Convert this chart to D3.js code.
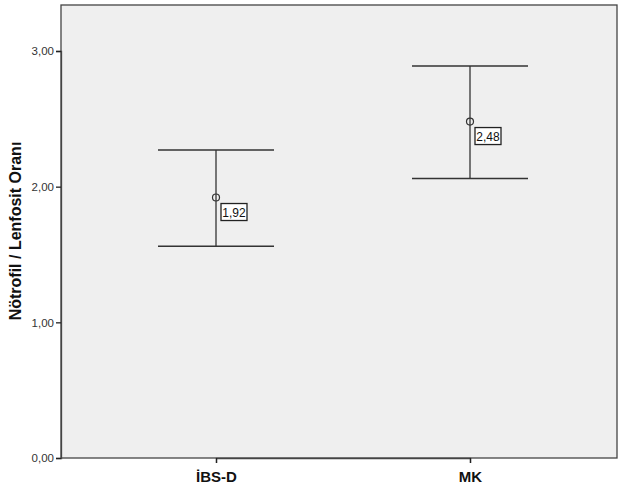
<!DOCTYPE html>
<html><head><meta charset="utf-8">
<script src="https://cdn.jsdelivr.net/npm/d3@7"></script>
<style>body{margin:0;background:#fff}svg{display:block}</style>
</head><body>
<svg id="c" width="618" height="491"></svg>
<script>
const categories = ["İBS-D", "MK"];
const means = [1.92, 2.48];
const upper = [2.27, 2.89];
const lower = [1.56, 2.06];
const meanLabels = ["1,92", "2,48"];
const yTicks = [0, 1, 2, 3];
const yTitle = "Nötrofil / Lenfosit Oranı";

const svg = d3.select("#c");
const m = {l: 61, t: 5, r: 617, b: 458};
const y = d3.scaleLinear().domain([0, 3]).range([m.b, 51]);
const x = d3.scalePoint().domain(categories).range([216, 470]);

svg.append("rect").attr("x", m.l).attr("y", m.t).attr("width", m.r - m.l).attr("height", m.b - m.t)
  .attr("fill", "#efefef").attr("stroke", "#444").attr("stroke-width", 1.3);

const fmt = d => d.toFixed(2).replace(".", ",");
const ya = svg.append("g").attr("transform", `translate(${m.l},0)`)
  .call(d3.axisLeft(y).tickValues(yTicks).tickFormat(fmt).tickSize(5).tickPadding(2));
ya.select(".domain").attr("stroke", "#444").attr("stroke-width", 1.3);
ya.selectAll(".tick line").attr("stroke", "#222").attr("stroke-width", 1.3);
ya.selectAll("text").attr("font-family", "Arial, 'Liberation Sans', sans-serif").attr("font-size", 11.5).attr("fill", "#333");

const xa = svg.append("g").attr("transform", `translate(0,${m.b})`)
  .call(d3.axisBottom(x).tickSize(5).tickPadding(8));
xa.select(".domain").attr("stroke", "#444").attr("stroke-width", 1.3);
xa.selectAll(".tick line").attr("stroke", "#222").attr("stroke-width", 1.3);
xa.selectAll("text").attr("font-family", "Arial, 'Liberation Sans', sans-serif").attr("font-size", 15)
  .attr("font-weight", "bold").attr("fill", "#111");

svg.append("text").attr("transform", `translate(21,231) rotate(-90)`)
  .attr("text-anchor", "middle").attr("font-family", "Arial, 'Liberation Sans', sans-serif")
  .attr("font-size", 16).attr("font-weight", "bold").attr("fill", "#111").text(yTitle);

const capW = 58;
const g = svg.append("g").selectAll("g").data(categories).join("g");
g.append("line").attr("x1", d => x(d)).attr("x2", d => x(d))
  .attr("y1", (d, i) => y(upper[i])).attr("y2", (d, i) => y(lower[i])).attr("stroke", "#333").attr("stroke-width", 1.3);
g.append("line").attr("x1", d => x(d) - capW).attr("x2", d => x(d) + capW)
  .attr("y1", (d, i) => y(upper[i])).attr("y2", (d, i) => y(upper[i])).attr("stroke", "#333").attr("stroke-width", 1.5);
g.append("line").attr("x1", d => x(d) - capW).attr("x2", d => x(d) + capW)
  .attr("y1", (d, i) => y(lower[i])).attr("y2", (d, i) => y(lower[i])).attr("stroke", "#333").attr("stroke-width", 1.5);
g.append("circle").attr("cx", d => x(d)).attr("cy", (d, i) => y(means[i])).attr("r", 3.5)
  .attr("fill", "none").attr("stroke", "#333").attr("stroke-width", 1.2);
g.append("rect").attr("x", d => x(d) + 5).attr("y", (d, i) => y(means[i]) + 6)
  .attr("width", 26).attr("height", 17).attr("fill", "#fff").attr("stroke", "#222").attr("stroke-width", 1.3);
g.append("text").attr("x", d => x(d) + 18).attr("y", (d, i) => y(means[i]) + 19)
  .attr("text-anchor", "middle").attr("font-family", "Arial, 'Liberation Sans', sans-serif")
  .attr("font-size", 12).attr("fill", "#111").text((d, i) => meanLabels[i]);
</script>
</body></html>
